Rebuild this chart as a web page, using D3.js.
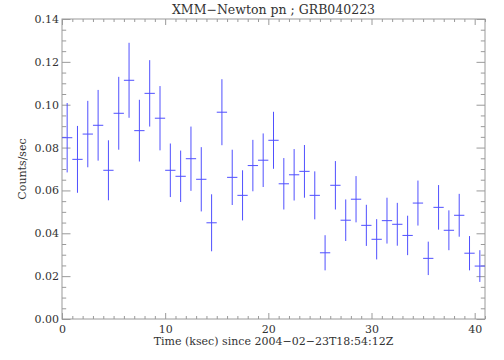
<!DOCTYPE html>
<html><head><meta charset="utf-8">
<script src="https://cdn.jsdelivr.net/npm/d3@7"></script>
<style>body{margin:0;background:#fff}svg{display:block}</style>
</head><body>
<script>
const timeCenters = [0.5,1.5,2.5,3.5,4.5,5.5,6.5,7.5,8.5,9.5,10.5,11.5,12.5,13.5,14.5,15.5,16.5,17.5,18.5,19.5,20.5,21.5,22.5,23.5,24.5,25.5,26.5,27.5,28.5,29.5,30.5,31.5,32.5,33.5,34.5,35.5,36.5,37.5,38.5,39.5,40.5];
const rates = [0.0846,0.0745,0.0863,0.0904,0.0694,0.0960,0.1114,0.0879,0.1053,0.0937,0.0694,0.0666,0.0748,0.0652,0.0449,0.0965,0.0661,0.0577,0.0716,0.0741,0.0834,0.0631,0.0673,0.0689,0.0577,0.0309,0.0624,0.0461,0.0559,0.0437,0.0372,0.0459,0.0442,0.0390,0.0541,0.0283,0.0521,0.0414,0.0484,0.0307,0.0247];
const rateErrs = [0.0162,0.0156,0.0155,0.0165,0.0140,0.0170,0.0175,0.0144,0.0155,0.0150,0.0125,0.0120,0.0150,0.0150,0.0133,0.0154,0.0129,0.0117,0.0120,0.0125,0.0133,0.0120,0.0120,0.0123,0.0112,0.0082,0.0113,0.0097,0.0108,0.0096,0.0094,0.0107,0.0100,0.0092,0.0105,0.0078,0.0104,0.0093,0.0100,0.0080,0.0074];
const binHalfWidth = 0.5;
const xMajorTicks = [0,10,20,30,40];
const yMajorTicks = [0,0.02,0.04,0.06,0.08,0.10,0.12,0.14];
const title = "XMM\u2212Newton pn ; GRB040223";
const xLabel = "Time (ksec) since 2004\u221202\u221223T18:54:12Z";
const yLabel = "Counts/sec";

const W = 504, H = 360;
const m = {left:62, right:485, top:19, bottom:319};
const svg = d3.select("body").append("svg").attr("width",W).attr("height",H);
const x = d3.scaleLinear().domain([0,41]).range([m.left,m.right]);
const y = d3.scaleLinear().domain([0,0.14]).range([m.bottom,m.top]);
const axisCol = "#9a9a9a", textCol = "#333";
const font = "'DejaVu Serif', serif";

const xMinor = d3.range(0,42,1).filter(v=>!xMajorTicks.includes(v));
const yMinor = d3.range(0,0.1401,0.005).map(v=>+v.toFixed(3)).filter(v=>!yMajorTicks.some(t=>Math.abs(t-v)<1e-6));

function styleAxis(g){
  g.select(".domain").remove();
  g.selectAll("line").attr("stroke",axisCol);
  g.selectAll("text").attr("fill",textCol).style("font-family",font).style("font-size","11px");
}
// bottom axis
const gB = svg.append("g").attr("transform",`translate(0,${m.bottom})`);
gB.call(d3.axisBottom(x).tickValues(xMajorTicks).tickSize(-6).tickPadding(6).tickFormat(d3.format("d"))).call(styleAxis);
gB.append("g").call(d3.axisBottom(x).tickValues(xMinor).tickSize(-3).tickFormat("")).call(styleAxis);
// top axis
const gT = svg.append("g").attr("transform",`translate(0,${m.top})`);
gT.call(d3.axisTop(x).tickValues(xMajorTicks).tickSize(-6).tickFormat("")).call(styleAxis);
gT.call(g=>g.append("g").call(d3.axisTop(x).tickValues(xMinor).tickSize(-3).tickFormat("")).call(styleAxis));
// left axis
const gL = svg.append("g").attr("transform",`translate(${m.left},0)`);
gL.call(d3.axisLeft(y).tickValues(yMajorTicks).tickSize(-8.5).tickPadding(3).tickFormat(d3.format(".2f"))).call(styleAxis);
gL.append("g").call(d3.axisLeft(y).tickValues(yMinor).tickSize(-4.2).tickFormat("")).call(styleAxis);
// right axis
const gR = svg.append("g").attr("transform",`translate(${m.right},0)`);
gR.call(d3.axisRight(y).tickValues(yMajorTicks).tickSize(-8.5).tickFormat("")).call(styleAxis);
gR.append("g").call(d3.axisRight(y).tickValues(yMinor).tickSize(-4.2).tickFormat("")).call(styleAxis);
// frame
svg.append("rect").attr("x",m.left).attr("y",m.top).attr("width",m.right-m.left).attr("height",m.bottom-m.top)
  .attr("fill","none").attr("stroke",axisCol).attr("stroke-width",1);

// data crosses
const data = timeCenters.map((t,i)=>({t, v:rates[i], e:rateErrs[i]}));
const gD = svg.append("g").attr("stroke","#5050ff").attr("stroke-width",1);
gD.selectAll("line.v").data(data).join("line").attr("class","v")
  .attr("x1",d=>x(d.t)).attr("x2",d=>x(d.t)).attr("y1",d=>y(d.v-d.e)).attr("y2",d=>y(d.v+d.e));
gD.selectAll("line.h").data(data).join("line").attr("class","h")
  .attr("x1",d=>x(Math.max(0,d.t-binHalfWidth))).attr("x2",d=>x(Math.min(41,d.t+binHalfWidth)))
  .attr("y1",d=>y(d.v)).attr("y2",d=>y(d.v));

// texts
svg.append("text").attr("x",(m.left+m.right)/2).attr("y",14).attr("text-anchor","middle")
  .attr("fill",textCol).style("font-family",font).style("font-size","12.5px").text(title);
svg.append("text").attr("x",(m.left+m.right)/2).attr("y",345).attr("text-anchor","middle")
  .attr("fill",textCol).style("font-family",font).style("font-size","11px").text(xLabel);
svg.append("text").attr("transform",`translate(26,${(m.top+m.bottom)/2}) rotate(-90)`).attr("text-anchor","middle")
  .attr("fill",textCol).style("font-family",font).style("font-size","11px").text(yLabel);
</script>
</body></html>
